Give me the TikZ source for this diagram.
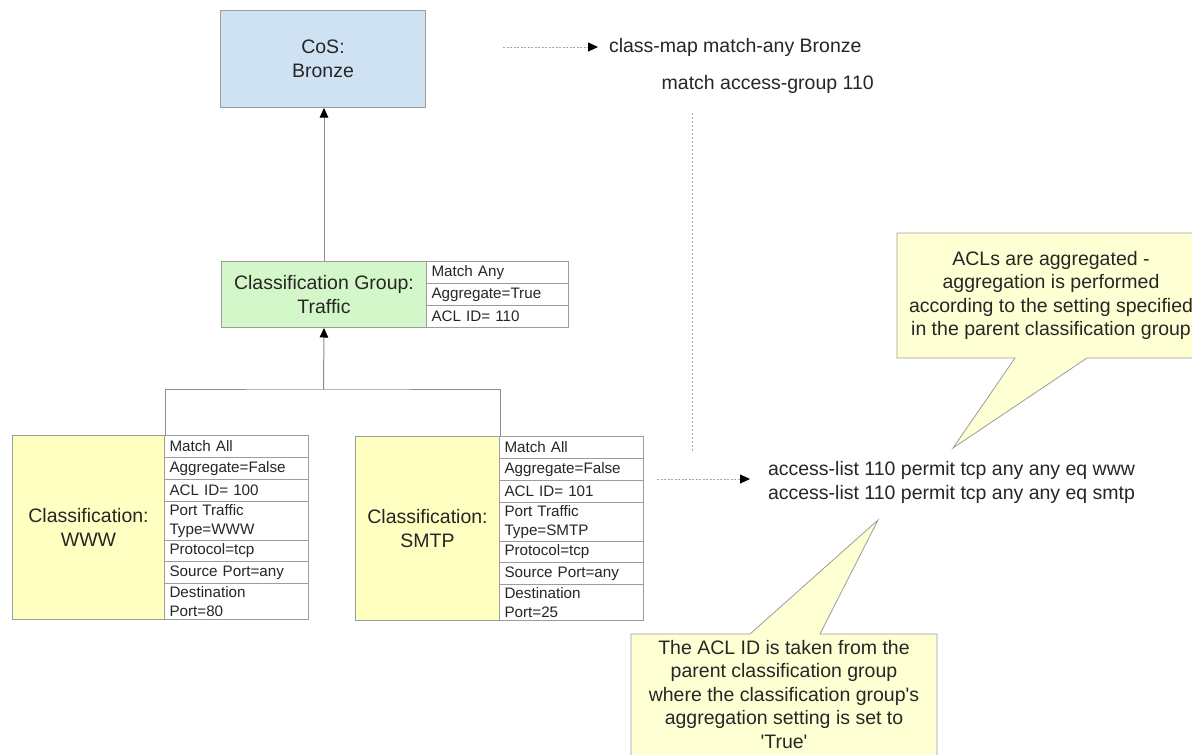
\documentclass[tikz,border=0pt]{standalone}
\usepackage{fontspec}
\setmainfont{Liberation Sans}
\usetikzlibrary{arrows.meta}
\definecolor{edgegray}{HTML}{9C9C9C}
\definecolor{linegray}{HTML}{8E8E8E}
\definecolor{dotgray}{HTML}{A8A8A8}
\definecolor{cosblue}{HTML}{CFE2F3}
\definecolor{groupgreen}{HTML}{D4F7C9}
\definecolor{classyellow}{HTML}{FFFFC2}
\definecolor{noteyellow}{HTML}{FFFFD4}
\definecolor{ink}{HTML}{262626}

\begin{document}
\begin{tikzpicture}[x=1pt,y=-1pt,
  every node/.style={text=ink},
  bigfont/.style={font=\fontsize{19.5}{23.5}\selectfont},
  cellfont/.style={font=\fontsize{15.2}{19}\selectfont},
  box/.style={draw=edgegray, line width=1pt, inner sep=0pt, align=center,
    anchor=north west, bigfont},
  cell/.style={draw=edgegray, line width=1pt, anchor=north west,
    minimum width=144pt, text width=134pt, inner xsep=5pt, inner ysep=0pt,
    align=left, cellfont},
  gcell/.style={cell, minimum width=142pt, text width=132pt},
  link/.style={draw=linegray, line width=1pt},
  arr/.style={link, -{Triangle[length=9.5pt,width=8.5pt,color=black]}},
  dasharr/.style={draw=dotgray, line width=1pt, dash pattern=on 2pt off 1.5pt,
    -{Triangle[length=10pt,width=9pt,color=black]}},
  dotline/.style={draw=dotgray, line width=1pt, dash pattern=on 2pt off 2pt},
  note/.style={fill=noteyellow, draw=edgegray, line width=0.8pt},
  plain/.style={bigfont, inner sep=0pt}
]
\fill[white] (0,0) rectangle (1192,755);
\useasboundingbox (0,0) rectangle (1192,755);

% class of service
\node[box, fill=cosblue, minimum width=205pt, minimum height=97pt] (cos) at (220,10) {CoS:\\Bronze};

% classification group with its attribute table
\node[box, fill=groupgreen, minimum width=205pt, minimum height=66pt] (tg) at (221,261) {Classification Group:\\Traffic};
\node[gcell, minimum height=22pt] (tg1) at (426,261) {Match Any};
\node[gcell, minimum height=22pt] (tg2) at (426,283) {Aggregate=True};
\node[gcell, minimum height=22pt] (tg3) at (426,305) {ACL ID= 110};

% classification WWW
\node[box, fill=classyellow, minimum width=152pt, minimum height=184pt] (wwwlab) at (12,435) {Classification:\\WWW};
\node[cell, minimum height=22pt] (w1) at (164,435) {Match All};
\node[cell, minimum height=22pt] (w2) at (164,457) {Aggregate=False};
\node[cell, minimum height=22pt] (w3) at (164,479) {ACL ID= 100};
\node[cell, minimum height=39pt] (w4) at (164,501) {Port Traffic\\Type=WWW};
\node[cell, minimum height=21pt] (w5) at (164,540) {Protocol=tcp};
\node[cell, minimum height=22pt] (w6) at (164,561) {Source Port=any};
\node[cell, minimum height=36pt] (w7) at (164,583) {Destination\\Port=80};

% classification SMTP
\node[box, fill=classyellow, minimum width=144pt, minimum height=184pt] (smtplab) at (355,436) {Classification:\\SMTP};
\node[cell, minimum height=22pt] (s1) at (499,436) {Match All};
\node[cell, minimum height=22pt] (s2) at (499,458) {Aggregate=False};
\node[cell, minimum height=22pt] (s3) at (499,480) {ACL ID= 101};
\node[cell, minimum height=39pt] (s4) at (499,502) {Port Traffic\\Type=SMTP};
\node[cell, minimum height=21pt] (s5) at (499,541) {Protocol=tcp};
\node[cell, minimum height=22pt] (s6) at (499,562) {Source Port=any};
\node[cell, minimum height=36pt] (s7) at (499,584) {Destination\\Port=25};

% hierarchy connectors
\coordinate (join) at (323.5,389);
\draw[link] (wwwlab.north east) |- (join) -| (smtplab.north east);
\draw[arr] (join) -- (tg.south);
\draw[arr] (tg.north) -- (tg.north |- cos.south);

% generated configuration
\coordinate (cmtail) at (503,47);
\node[plain, anchor=west, outer xsep=11pt] (cm) at (598,47) {class-map match-any Bronze};
\draw[dasharr] (cmtail) -- (cm.west);
\node[plain, anchor=east] (ag) at (874,84) {match access-group 110};

\coordinate (dtop) at (692,113);
\coordinate (dbot) at (692,452);
\draw[dotline] (dtop) -- (dbot);

\coordinate (acltail) at (657,479);
\node[plain, anchor=west, align=left, outer xsep=18pt] (acl) at (750,482.5)
  {access-list 110 permit tcp any any eq www\\access-list 110 permit tcp any any eq smtp};
\draw[dasharr] (acltail) -- (acltail -| acl.west);

% callout notes
\path[note] (897,233) -- (1205,233) -- (1205,358) -- (1087,358) -- (953,448)
  -- (1015,358) -- (897,358) -- cycle;
\node[plain, align=center] (note1) at (1051,295.5)
  {ACLs are aggregated -\\aggregation is performed\\according to the setting specified\\in the parent classification group};

\path[note] (631,634) -- (750,634) -- (878,520) -- (820,634) -- (937,634)
  -- (937,770) -- (631,770) -- cycle;
\node[plain, align=center, anchor=north] (note2) at (784,640)
  {The ACL ID is taken from the\\parent classification group\\where the classification group\textquotesingle s\\aggregation setting is set to\\\textquotesingle True\textquotesingle};
\end{tikzpicture}
\end{document}
